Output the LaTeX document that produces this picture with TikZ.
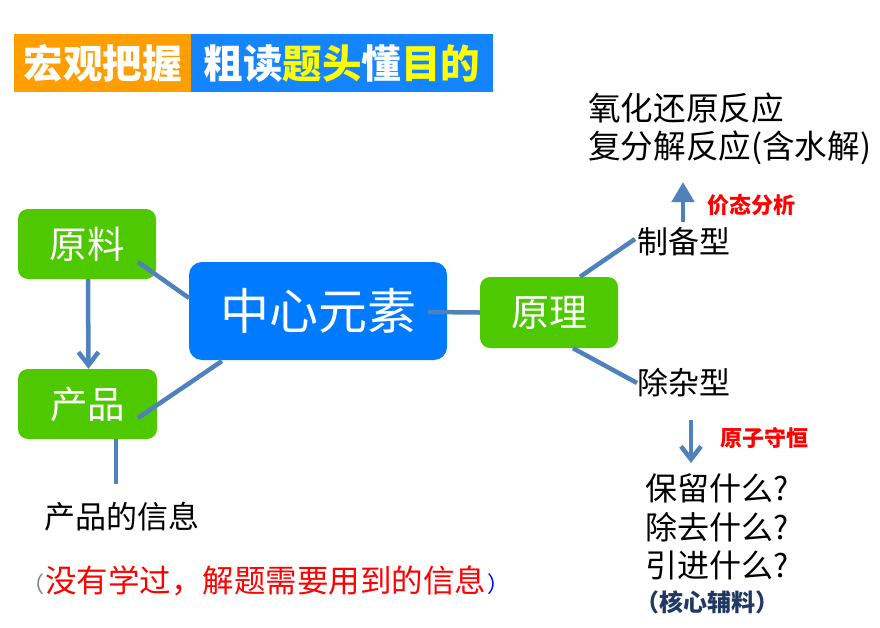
\documentclass[tikz,border=0pt]{standalone}
\usepackage{fontspec}
\setmainfont{Noto Sans CJK SC}
\usetikzlibrary{arrows.meta,calc}
\definecolor{gr}{RGB}{78,201,0}
\definecolor{zblue}{RGB}{0,122,255}
\definecolor{tblue}{RGB}{20,132,255}
\definecolor{torange}{RGB}{255,158,0}
\definecolor{lb}{RGB}{79,129,189}
\definecolor{ttyellow}{RGB}{255,255,0}
\definecolor{navy}{RGB}{31,56,100}
\begin{document}
\begin{tikzpicture}[x=1pt,y=-1pt,
  fs/.style={font=\fontsize{#1}{#1}\selectfont},
  box/.style={rounded corners=10pt, inner sep=0, text=white, fill=gr, minimum width=138, minimum height=70},
  conn/.style={draw=lb, line width=4.5pt},
  barb/.style={conn, -{Straight Barb[length=13pt,width=20pt]}},
  tri/.style={conn, -{Triangle[length=20pt,width=22pt]}},
  txt/.style={inner sep=0, anchor=west}]
\useasboundingbox (0,0) rectangle (880,627);
% title
\node[fill=torange, text=white, inner sep=0, minimum width=177, minimum height=58, anchor=north west, font=\bfseries\fontsize{39.5}{39.5}\selectfont] (t1) at (14,34) {宏观把握};
\node[fill=tblue, text=white, inner sep=0, minimum width=302, minimum height=58, anchor=north west, font=\bfseries\fontsize{39.5}{39.5}\selectfont] (t2) at (191,34) {粗读{\color{ttyellow}题头}懂{\color{ttyellow}目的}};
% boxes
\node[box, fs=37.5] (yl) at (87,244) {原料};
\node[box, fs=37.5, minimum width=139] (cp) at (87.5,404) {产品};
\node[box, fill=zblue, rounded corners=13pt, minimum width=258, minimum height=98, fs=49] (zx) at (318,311) {中心元素};
\node[box, fs=38, minimum height=71] (yli) at (549,312.5) {原理};
% right texts
\node[txt, fs=32.6] (ox1) at (588,108) {氧化还原反应};
\node[txt, fs=32.6] (ox2) at (588,148) {复分解反应(含水解)};
\node[txt, text=red, font=\bfseries\fontsize{22}{22}\selectfont] (jt) at (707,205) {价态分析};
\node[txt, fs=31] (zb) at (637,242) {制备型};
\node[txt, fs=31] (cz) at (637,383) {除杂型};
\node[txt, text=red, font=\bfseries\fontsize{22}{22}\selectfont] (yz) at (720,438) {原子守恒};
\node[txt, fs=32] (q1) at (645,488) {保留什么?};
\node[txt, fs=32] (q2) at (645,527) {除去什么?};
\node[txt, fs=32] (q3) at (645,565) {引进什么?};
\node[txt, text=navy, font=\bfseries\fontsize{24}{24}\selectfont] (hx) at (635.5,602) {（核心辅料）};
% left texts
\node[txt, fs=31] (cpxx) at (44,516.5) {产品的信息};
\node[txt, fs=31.5] (note) at (22,581) {{\color{gray}\fontsize{22}{22}\selectfont（}\kern1pt{\color{red}没有学过，解题需要用到的信息}\kern1pt{\color{blue}\fontsize{22}{22}\selectfont）}};
% coordinates
\coordinate (e1) at (116,484);
\coordinate (ua) at (683,222);
\coordinate (ub) at (683,182);
\coordinate (da) at (691,420);
\coordinate (db) at (691,463);
% connectors
\draw[conn] ([shift={(51,18)}]yl.center) -- ([shift={(-129,-13)}]zx.center);
\draw[conn] ([shift={(50.5,14)}]cp.center) -- ([shift={(-96,50)}]zx.center);
\draw[conn] ([shift={(110,1)}]zx.center) -- (yli.west);
\draw[conn] ([xshift=31]yli.north) -- ([shift={(-2,-3)}]zb.west);
\draw[conn] ([xshift=24]yli.south) -- (cz.west);
\draw[conn] ([xshift=28.5]cp.south) -- (e1);
\draw[barb] ([xshift=1]yl.south) -- ([xshift=1]cp.north);
\draw[tri] (ua) -- (ub);
\draw[barb] (da) -- (db);
\end{tikzpicture}
\end{document}
